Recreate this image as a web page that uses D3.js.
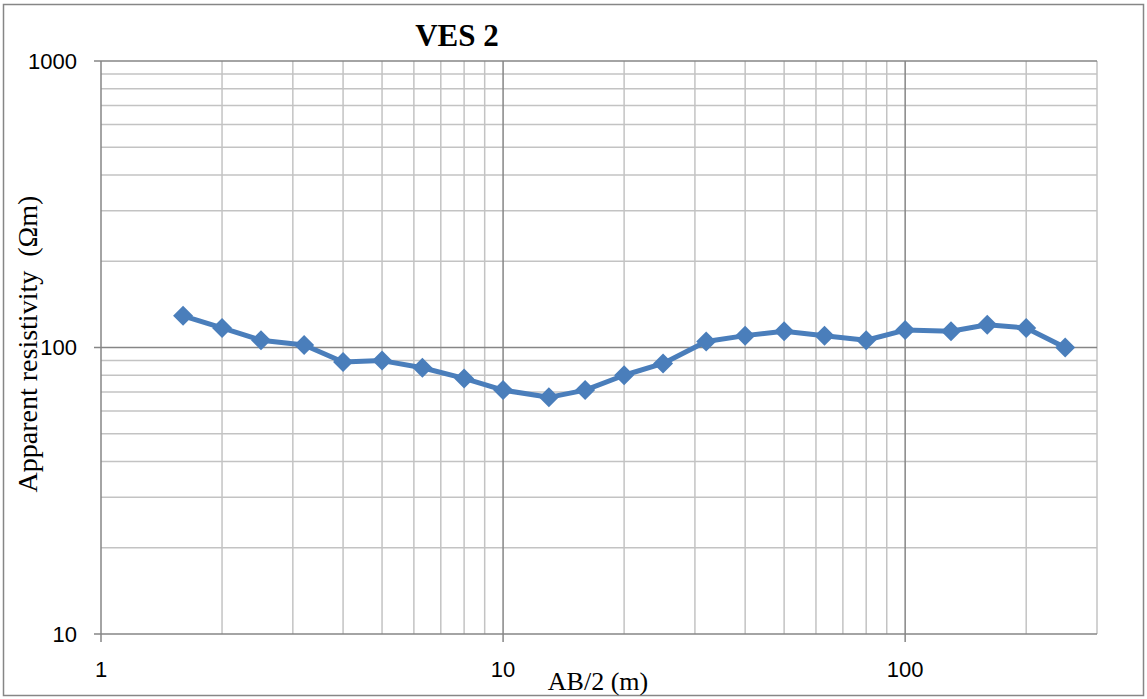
<!DOCTYPE html>
<html>
<head>
<meta charset="utf-8">
<script src="https://cdnjs.cloudflare.com/ajax/libs/d3/7.8.5/d3.min.js"></script>
<style>
  html, body { margin: 0; padding: 0; background: #fff; }
  svg { display: block; }
</style>
</head>
<body>
<svg id="chart" width="1147" height="699"></svg>
<script>
// AB/2 electrode half-spacing (m) and apparent resistivity (Ωm) for VES 2
const ab2 = [1.6, 2, 2.5, 3.2, 4, 5, 6.3, 8, 10, 13, 16, 20, 25, 32, 40, 50, 63, 80, 100, 130, 160, 200, 250];
const rho = [129, 117, 106, 102, 89, 90, 85, 78, 71, 67, 71, 80, 88, 105, 110, 114, 110, 106, 115, 114, 120, 117, 100];

const xTickLabels = [1, 10, 100];
const yTickLabels = [10, 100, 1000];
const title = "VES 2";
const xTitle = "AB/2 (m)";
const yTitle = "Apparent resistivity  (Ωm)";

const W = 1147, H = 699;
const plot = { left: 101, right: 1097, top: 61, bottom: 634 };

const svg = d3.select("#chart");

const x = d3.scaleLog().domain([1, 300]).range([plot.left, plot.right]);
const y = d3.scaleLog().domain([10, 1000]).range([plot.bottom, plot.top]);

const majorColor = "#868686";
const minorColor = "#c3c3c3";

// outer frame
svg.append("rect")
  .attr("x", 3.5).attr("y", 4.5)
  .attr("width", W - 7).attr("height", H - 8)
  .attr("fill", "#fff")
  .attr("stroke", majorColor).attr("stroke-width", 1.5);

// grid values: every 1..9 step of each decade
const xGrid = [];
[1, 10, 100].forEach(d => { for (let k = 1; k <= 9; k++) if (k * d <= 300) xGrid.push(k * d); });
const yGrid = [];
[10, 100].forEach(d => { for (let k = 1; k <= 9; k++) yGrid.push(k * d); });
yGrid.push(1000);

const isMajor = v => Math.abs(Math.log10(v) - Math.round(Math.log10(v))) < 1e-9;

const grid = svg.append("g");
// minor lines first, majors on top
grid.selectAll("line.xg")
  .data(xGrid.filter(v => !isMajor(v)))
  .join("line")
  .attr("x1", d => x(d)).attr("x2", d => x(d))
  .attr("y1", plot.top).attr("y2", plot.bottom)
  .attr("stroke", minorColor).attr("stroke-width", 1.5);
grid.selectAll("line.yg")
  .data(yGrid.filter(v => !isMajor(v)))
  .join("line")
  .attr("y1", d => y(d)).attr("y2", d => y(d))
  .attr("x1", plot.left).attr("x2", plot.right)
  .attr("stroke", minorColor).attr("stroke-width", 1.5);
grid.selectAll("line.xm")
  .data(xGrid.filter(isMajor))
  .join("line")
  .attr("x1", d => x(d)).attr("x2", d => x(d))
  .attr("y1", plot.top).attr("y2", plot.bottom + 8)
  .attr("stroke", majorColor).attr("stroke-width", 1.5);
grid.selectAll("line.ym")
  .data(yGrid.filter(isMajor))
  .join("line")
  .attr("y1", d => y(d)).attr("y2", d => y(d))
  .attr("x1", plot.left - 7).attr("x2", plot.right)
  .attr("stroke", majorColor).attr("stroke-width", 1.5);

// axes tick labels
const tickFont = "'Liberation Sans', Arial, sans-serif";
svg.append("g").selectAll("text")
  .data(yTickLabels)
  .join("text")
  .attr("x", 77).attr("y", d => y(d))
  .attr("dy", "0.35em")
  .attr("text-anchor", "end")
  .attr("font-family", tickFont).attr("font-size", 22)
  .attr("fill", "#000")
  .text(d => d);

svg.append("g").selectAll("text")
  .data(xTickLabels)
  .join("text")
  .attr("x", d => x(d)).attr("y", 677)
  .attr("text-anchor", "middle")
  .attr("font-family", tickFont).attr("font-size", 22)
  .attr("fill", "#000")
  .text(d => d);

// titles
const serif = "'Liberation Serif', 'Times New Roman', serif";
svg.append("text")
  .attr("x", 457).attr("y", 46)
  .attr("text-anchor", "middle")
  .attr("font-family", serif).attr("font-weight", "bold").attr("font-size", 31)
  .text(title);

svg.append("text")
  .attr("x", 598).attr("y", 690)
  .attr("text-anchor", "middle")
  .attr("font-family", serif).attr("font-size", 26)
  .text(xTitle);

svg.append("text")
  .attr("transform", "translate(37,344) rotate(-90)")
  .attr("text-anchor", "middle")
  .attr("font-family", serif).attr("font-size", 28)
  .style("white-space", "pre")
  .text(yTitle);

// data series
const pts = ab2.map((v, i) => [v, rho[i]]);
const blue = "#4a7ebb";

svg.append("path")
  .datum(pts)
  .attr("fill", "none")
  .attr("stroke", blue).attr("stroke-width", 5)
  .attr("stroke-linejoin", "round")
  .attr("d", d3.line().x(d => x(d[0])).y(d => y(d[1])));

const r = 10;
svg.append("g").selectAll("path")
  .data(pts)
  .join("path")
  .attr("transform", d => `translate(${x(d[0])},${y(d[1])})`)
  .attr("d", `M0,${-r}L${r},0L0,${r}L${-r},0Z`)
  .attr("fill", blue);
</script>
</body>
</html>
